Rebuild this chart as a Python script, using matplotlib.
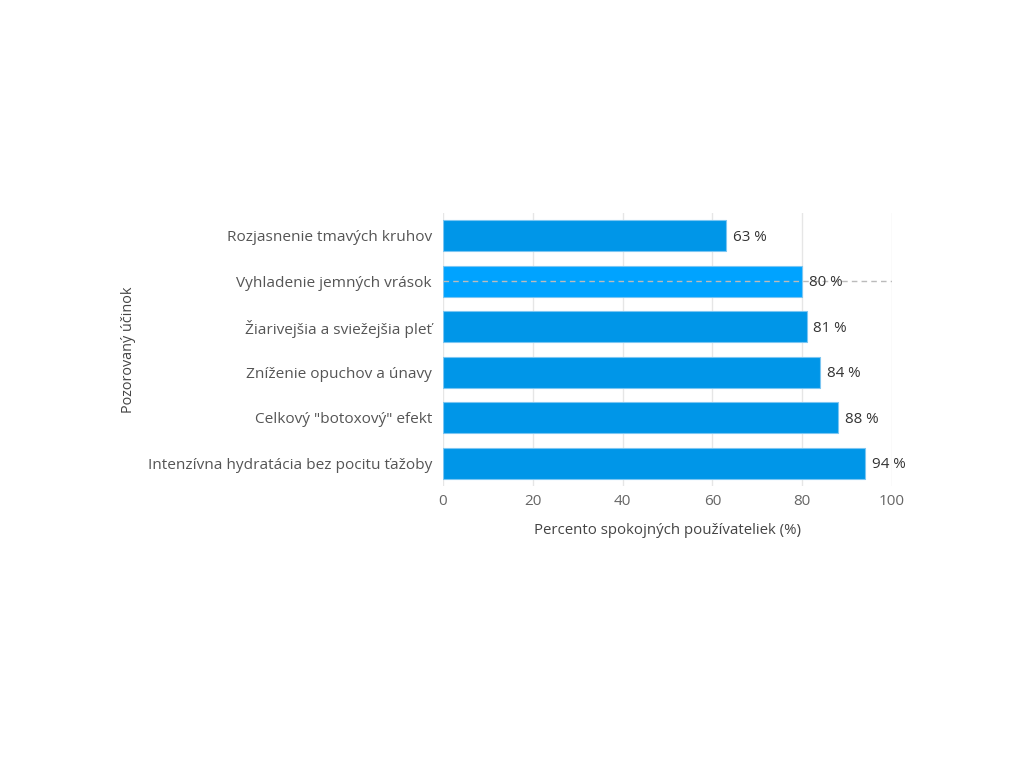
import matplotlib
matplotlib.use("Agg")
import matplotlib.pyplot as plt

categories = ["Rozjasnenie tmavých kruhov", "Vyhladenie jemných vrások",
              "Žiarivejšia a sviežejšia pleť", "Zníženie opuchov a únavy",
              'Celkový "botoxový" efekt', "Intenzívna hydratácia bez pocitu ťažoby"]
values = [63, 80, 81, 84, 88, 94]
xticks = [0, 20, 40, 60, 80, 100]
highlight = 1

plt.rcParams['font.family'] = ['Open Sans', 'DejaVu Sans']
fig = plt.figure(figsize=(10.24, 7.68), dpi=100)
ax = fig.add_axes([443/1024, 1-486/768, 449/1024, 273/768])

ypos = list(range(len(categories)))
colors = ['#00A3FF' if i == highlight else '#0096E8' for i in ypos]
ax.barh(ypos, values, height=0.68, color=colors, edgecolor='#7cc6f2', linewidth=0.8, zorder=3)
ax.axhline(highlight, color='#bbbbbb', linestyle=(0, (4, 3)), linewidth=1, zorder=4)
for y, v in zip(ypos, values):
    ax.text(v + 1.5, y + 0.03, f"{v} %", va='center', ha='left', fontsize=10.9, color='#333333', zorder=5)

ax.set_xlim(0, 100)
ax.set_ylim(len(categories) - 0.5, -0.5)
ax.set_yticks(ypos)
ax.set_yticklabels(categories, fontsize=11.1, color='#555555')
ax.set_xticks(xticks)
ax.set_xticklabels([str(t) for t in xticks], fontsize=11, color='#666666')
ax.tick_params(length=0, pad=8)
ax.tick_params(axis='x', pad=6)
ax.grid(axis='x', color='#e6e6e6', linewidth=1, zorder=0)
for s in ax.spines.values():
    s.set_visible(False)
ax.set_xlabel("Percento spokojných používateliek (%)", fontsize=10.8, color='#444444', labelpad=10)
ax.set_ylabel("Pozorovaný účinok", fontsize=10.4, color='#444444', labelpad=8)

fig.savefig("out.png", dpi=100)
